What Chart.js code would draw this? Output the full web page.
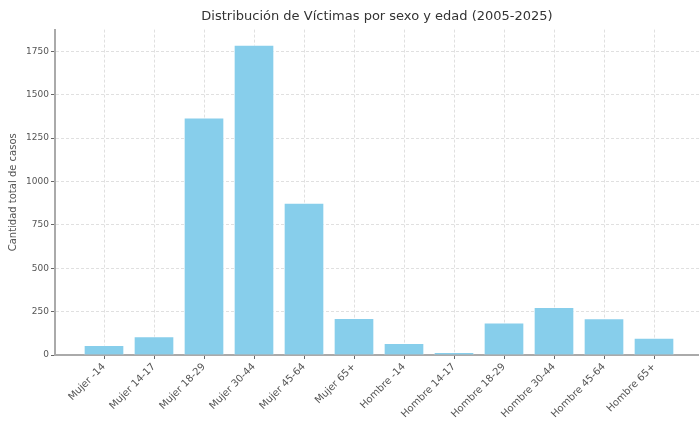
<!DOCTYPE html>
<html>
<head>
<meta charset="utf-8">
<script src="https://cdn.jsdelivr.net/npm/chart.js@4.4.0/dist/chart.umd.min.js"></script>
<style>
  body { margin: 0; background: #fff; }
  #wrap { width: 699px; height: 436px; position: relative; }
</style>
</head>
<body>
<div id="wrap"><canvas id="victimasChart"></canvas></div>
<script>
// Categories and totals
const categorias = ['Mujer -14', 'Mujer 14-17', 'Mujer 18-29', 'Mujer 30-44', 'Mujer 45-64', 'Mujer 65+',
  'Hombre -14', 'Hombre 14-17', 'Hombre 18-29', 'Hombre 30-44', 'Hombre 45-64', 'Hombre 65+'];
const casos = [56, 106, 1367, 1786, 876, 212, 67, 16, 185, 275, 210, 98];
const yTicks = [0, 250, 500, 750, 1000, 1250, 1500, 1750];

const gridColor = 'rgba(0, 0, 0, 0.12)';
const textColor = '#555';

const ctx = document.getElementById('victimasChart').getContext('2d');
const victimasChart = new Chart(ctx, {
  type: 'bar',
  data: {
    datasets: [{
      label: 'Casos',
      data: casos.map((v, i) => ({ x: i, y: v })),
      backgroundColor: '#87CEEB',
      borderColor: 'rgba(255, 255, 255, 0.5)',
      borderWidth: 1,
      barThickness: 40
    }]
  },
  options: {
    responsive: true,
    maintainAspectRatio: false,
    animation: false,
    plugins: {
      legend: { display: false },
      tooltip: { enabled: false },
      title: {
        display: true,
        text: 'Distribución de Víctimas por sexo y edad (2005-2025)',
        fullSize: false,
        color: '#333',
        font: { family: 'DejaVu Sans', size: 13, weight: 'normal' },
        padding: { top: 9, bottom: 5 }
      }
    },
    scales: {
      x: {
        type: 'linear',
        offset: false,
        min: -0.98,
        max: 11.9,
        z: 1,
        afterBuildTicks: scale => {
          scale.ticks = categorias.map((c, i) => ({ value: i }));
        },
        afterFit: scale => { scale.height = 81; },
        ticks: {
          autoSkip: false,
          maxRotation: 45,
          minRotation: 45,
          color: textColor,
          font: { family: 'DejaVu Sans', size: 10 },
          padding: 2,
          callback: value => categorias[value]
        },
        grid: {
          offset: false,
          color: gridColor,
          tickLength: 4,
          tickColor: '#666'
        },
        border: { color: '#aaa', width: 2, dash: [3, 2] }
      },
      y: {
        min: 0,
        max: 1875,
        z: 1,
        afterBuildTicks: scale => {
          scale.ticks = yTicks.map(v => ({ value: v }));
        },
        afterFit: scale => { scale.width = 55; },
        title: {
          display: true,
          text: 'Cantidad total de casos',
          color: textColor,
          font: { family: 'DejaVu Sans', size: 10 },
          padding: { top: 7, bottom: 0 }
        },
        ticks: {
          color: textColor,
          font: { family: 'DejaVu Sans', size: 9 },
          padding: 2,
          callback: value => String(value)
        },
        grid: {
          color: gridColor,
          tickLength: 4,
          tickColor: '#666'
        },
        border: { color: '#aaa', width: 2, dash: [3, 2] }
      }
    }
  }
});
</script>
</body>
</html>
